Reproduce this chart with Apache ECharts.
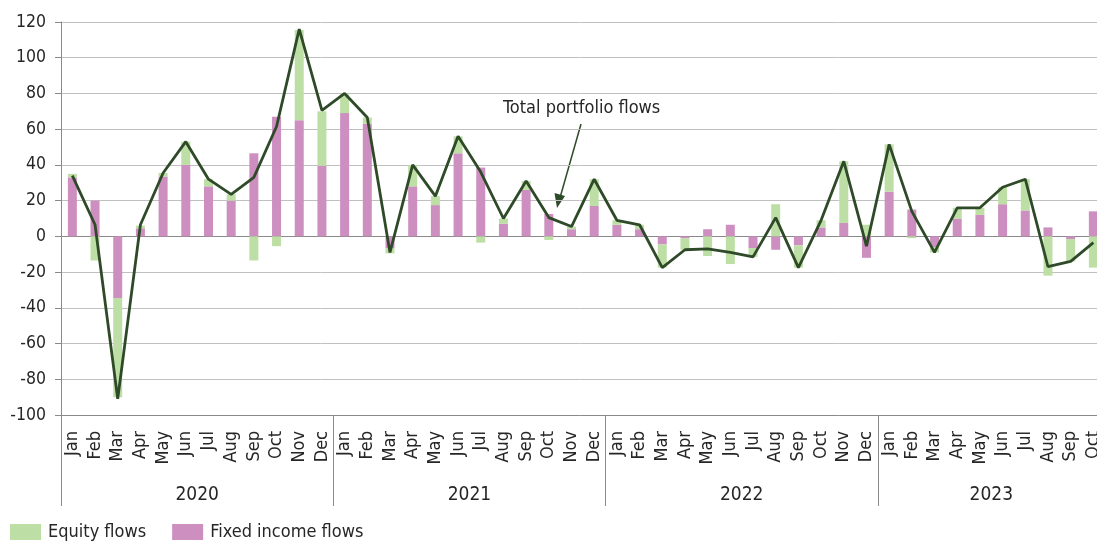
<!DOCTYPE html>
<html>
<head>
<meta charset="utf-8">
<script src="https://cdn.jsdelivr.net/npm/echarts@6/dist/echarts.min.js"></script>
<style>html,body{margin:0;padding:0;background:#fff;}#c{width:1097px;height:542px;}</style>
</head>
<body>
<div id="c"></div>
<script>
const months = ['Jan','Feb','Mar','Apr','May','Jun','Jul','Aug','Sep','Oct','Nov','Dec',
  'Jan','Feb','Mar','Apr','May','Jun','Jul','Aug','Sep','Oct','Nov','Dec',
  'Jan','Feb','Mar','Apr','May','Jun','Jul','Aug','Sep','Oct','Nov','Dec',
  'Jan','Feb','Mar','Apr','May','Jun','Jul','Aug','Sep','Oct'];
const years = ['2020','2021','2022','2023'];
const yearStart = [0, 12, 24, 36, 46];
const yearMid = [6, 18, 30, 41];
const fixedIncome = [33,20,-34.5,4.5,33.5,40,28,20,46.5,67,65,39.5,
  69,63,-6.5,28,17.5,46.5,38.5,7,26,12.5,4,17,
  6.5,4,-4.5,-1,4,6.5,-6.5,-7.5,-5,5,7.5,-12,
  25,15,-6,10,12,18,14.5,5,-1.5,14];
const equity = [2,-13.5,-55.5,1.5,2,13,4,3.5,-13.5,-5.5,50.5,30.5,
  10.5,3.5,-3,12,5,9.5,-3.5,3,5,-2,1.5,15,
  2.5,2.5,-13,-6.5,-11,-15.5,-5,18,-12.5,4,34.5,6.5,
  26.5,-1,-3,6,4,9.5,17.5,-22,-12.5,-17.5];
const total = [34,6.5,-91,6.5,35.5,53,32,23.5,33,61.5,116,70.5,
  80,66.5,-9,40,22.5,56,36,10,31,10.5,5.5,32,
  9,6.5,-17.5,-7.5,-7,-9,-11.5,10.5,-17.5,9,42,-5.5,
  51.5,14,-9,16,16,27.5,32,-17,-14,-3.5];

const FONT = "'Liberation Sans Narrow','DejaVu Sans Condensed','Liberation Sans',sans-serif";
const TXT = '#262626';
const AX = '#8a8a8a';
const GRID = '#c0c0c0';

const chart = echarts.init(document.getElementById('c'), null, {renderer: 'canvas'});
chart.setOption({
  animation: false,
  backgroundColor: '#fff',
  textStyle: {fontFamily: FONT, color: TXT},
  grid: {left: 61, top: 22, width: 1043.7, height: 393, outerBoundsMode: 'none', containLabel: false},
  legend: {
    left: 10, top: 523, padding: 0, itemWidth: 31, itemHeight: 16, itemGap: 26,
    icon: 'rect', data: ['Equity flows', 'Fixed income flows'],
    textStyle: {fontFamily: FONT, fontSize: 18, color: TXT, padding: [0,0,0,2]}
  },
  xAxis: [
    {
      type: 'category', data: months, position: 'bottom', gridIndex: 0,
      axisLine: {onZero: false, lineStyle: {color: AX, width: 1}},
      axisTick: {alignWithLabel: true, length: 5, lineStyle: {color: AX}},
      axisLabel: {rotate: 90, margin: 16, fontFamily: FONT, fontSize: 18, color: TXT, interval: 0},
      splitLine: {show: false}
    },
    {
      type: 'value', min: 0, max: 46, position: 'bottom', gridIndex: 0,
      axisLine: {show: false, onZero: false},
      axisTick: {show: true, customValues: yearStart, length: 91, lineStyle: {color: AX}},
      axisLabel: {
        customValues: yearMid, margin: 71, fontFamily: FONT, fontSize: 19, color: TXT,
        formatter: function (v) { return years[yearMid.indexOf(v)] || ''; }
      },
      splitLine: {show: false}
    },
    {
      type: 'category', data: months, position: 'bottom', gridIndex: 0,
      axisLine: {onZero: true, onZeroAxisIndex: 0, lineStyle: {color: AX, width: 1}},
      axisTick: {alignWithLabel: true, length: 5, lineStyle: {color: AX}},
      axisLabel: {show: false},
      splitLine: {show: false}
    }
  ],
  yAxis: {
    type: 'value', min: -100, max: 120, interval: 20,
    axisLine: {show: true, onZero: false, lineStyle: {color: AX}},
    axisTick: {show: true, length: 6, lineStyle: {color: AX}},
    axisLabel: {margin: 15, fontFamily: FONT, fontSize: 17.5, color: TXT},
    splitLine: {show: true, lineStyle: {color: GRID, width: 1}}
  },
  series: [
    {
      name: 'Fixed income flows', type: 'bar', stack: 'flows', data: fixedIncome,
      xAxisIndex: 0, yAxisIndex: 0, barWidth: 9, itemStyle: {color: '#cc8fc0'}
    },
    {
      name: 'Equity flows', type: 'bar', stack: 'flows', data: equity,
      xAxisIndex: 0, yAxisIndex: 0, barWidth: 9, itemStyle: {color: '#bddfa5'}
    },
    {
      name: 'Total portfolio flows', type: 'line', data: total,
      xAxisIndex: 0, yAxisIndex: 0, symbol: 'none',
      lineStyle: {color: '#2f4a28', width: 2.8}, z: 5
    }
  ],
  graphic: [
    {type: 'text', left: 503, top: 99, style: {text: 'Total portfolio flows', font: "18px 'Liberation Sans Narrow','DejaVu Sans Condensed','Liberation Sans',sans-serif", fill: TXT}},
    {type: 'line', shape: {x1: 581, y1: 124, x2: 560.5, y2: 196}, style: {stroke: '#2f4a28', lineWidth: 1.5}},
    {type: 'polygon', shape: {points: [[557, 208], [554.5, 193], [565, 196]]}, style: {fill: '#2f4a28'}}
  ]
});
</script>
</body>
</html>
